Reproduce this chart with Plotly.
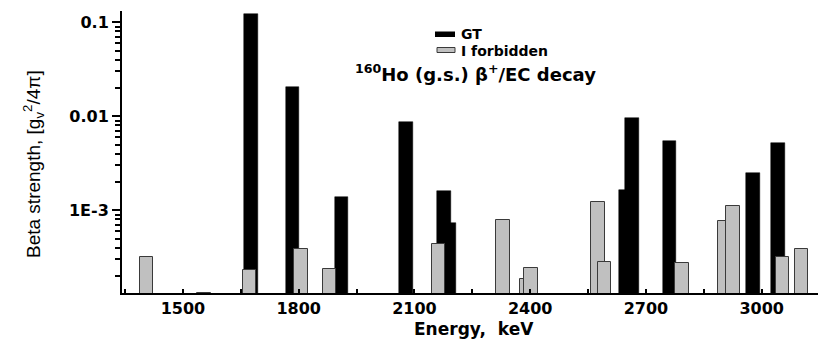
import plotly.graph_objects as go

# ---- data ----
gt_energy = [1676, 1784, 1911, 2078, 2176, 2190, 2647, 2663, 2761, 2978, 3043]
gt_strength = [0.122, 0.0204, 0.0014, 0.0086, 0.0016, 0.00073, 0.00166, 0.0095, 0.0054, 0.0025, 0.0052]

forb_energy = [1406, 1555, 1672, 1806, 1880, 2162, 2329, 2392, 2402, 2576, 2592, 2794, 2903, 2926, 3054, 3103]
forb_strength = [3.19e-4, 1.33e-4, 2.34e-4, 3.92e-4, 2.38e-4, 4.43e-4, 7.96e-4, 1.86e-4, 2.41e-4,
                 1.24e-3, 2.80e-4, 2.75e-4, 7.77e-4, 1.10e-3, 3.16e-4, 3.92e-4]

series_names = ["GT", "I forbidden"]
x_tickvals = [1500, 1800, 2100, 2400, 2700, 3000]
x_ticktext = ["1500", "1800", "2100", "2400", "2700", "3000"]
x_minor = [1350, 1650, 1950, 2250, 2550, 2850]
y_tickvals = [0.1, 0.01, 0.001]
y_ticktext = ["0.1", "0.01", "1E-3"]
y_minor = [m * 10.0 ** e for e in (-4, -3, -2) for m in range(2, 10)]

title_text = "<sup>160</sup>Ho (g.s.) \u03b2<sup>+</sup>/EC decay"
x_title = "Energy,\u00a0 keV"
y_title = "Beta strength, [g<sub>v</sub><sup>2</sup>/4\u03c0]"

# ---- layout geometry ----
W, H = 818, 341
ML, MR, MT, MB = 122, 0, 11, 48
PW, PH = W - ML - MR, H - MT - MB


def px(xp):
    return (xp - ML) / PW


def py(yp):
    return (H - MB - yp) / PH


BOLD = "DejaVu Sans"
BLACK = "#000000"
GRAY = "#c0c0c0"
EDGE = "#3a3a3a"

fig = go.Figure()
fig.add_trace(go.Bar(x=gt_energy, y=gt_strength, width=36, name=series_names[0],
                     marker=dict(color=BLACK, line=dict(color=BLACK, width=0.5)),
                     showlegend=False))
fig.add_trace(go.Bar(x=forb_energy, y=forb_strength, width=35, name=series_names[1],
                     marker=dict(color=GRAY, line=dict(color=EDGE, width=1)),
                     showlegend=False))

# legend (swatches + labels)
shapes = [
    dict(type="rect", xref="paper", yref="paper", x0=px(435), x1=px(455), y0=py(37), y1=py(31.5),
         fillcolor=BLACK, line=dict(color=BLACK, width=0)),
    dict(type="rect", xref="paper", yref="paper", x0=px(437), x1=px(455), y0=py(52.5), y1=py(47.5),
         fillcolor=GRAY, line=dict(color=EDGE, width=1)),
]
annotations = [
    dict(text="<b>%s</b>" % series_names[0], xref="paper", yref="paper", x=px(459), y=py(34),
         xanchor="left", yanchor="middle", showarrow=False,
         font=dict(family=BOLD, size=14, color=BLACK)),
    dict(text="<b>%s</b>" % series_names[1], xref="paper", yref="paper", x=px(459), y=py(50.5),
         xanchor="left", yanchor="middle", showarrow=False,
         font=dict(family=BOLD, size=14, color=BLACK)),
    dict(text="<b>%s</b>" % title_text, xref="paper", yref="paper", x=px(353), y=py(73),
         xanchor="left", yanchor="middle", showarrow=False,
         font=dict(family=BOLD, size=18, color=BLACK)),
    dict(text=y_title, xref="paper", yref="paper", x=px(33), y=py(164),
         xanchor="center", yanchor="middle", textangle=-90, showarrow=False,
         font=dict(family="Liberation Sans", size=19, color=BLACK)),
    dict(text="<b>%s</b>" % x_title, xref="paper", yref="paper", x=px(474), y=py(328.5),
         xanchor="center", yanchor="middle", showarrow=False, borderpad=0,
         font=dict(family=BOLD, size=17, color=BLACK)),
]

fig.update_layout(
    width=W, height=H,
    margin=dict(l=ML, r=MR, t=MT, b=MB, autoexpand=False),
    paper_bgcolor="white", plot_bgcolor="white",
    barmode="overlay", bargap=0,
    shapes=shapes, annotations=annotations,
    showlegend=False,
)

fig.update_xaxes(
    range=[1342, 3146], showgrid=False, zeroline=False,
    showline=True, linecolor=BLACK, linewidth=2,
    tickmode="array", tickvals=x_tickvals, ticktext=x_ticktext,
    ticks="inside", ticklen=4, tickwidth=2, tickcolor=BLACK,
    minor=dict(tickmode="array", tickvals=x_minor, ticks="inside", ticklen=4, tickwidth=2, tickcolor=BLACK),
    tickfont=dict(family=BOLD, size=16, color=BLACK, weight="bold"),
)
fig.update_yaxes(
    type="log", range=[-3.88, -0.88], showgrid=False, zeroline=False,
    showline=True, linecolor=BLACK, linewidth=2,
    tickmode="array", tickvals=y_tickvals, ticktext=y_ticktext,
    ticks="outside", ticklen=8, tickwidth=2, tickcolor=BLACK,
    tickfont=dict(family=BOLD, size=16, color=BLACK, weight="bold"),
    minor=dict(tickmode="array", tickvals=y_minor, ticks="outside", ticklen=5, tickwidth=1.5, tickcolor=BLACK),
)

fig.write_html("out.html")
